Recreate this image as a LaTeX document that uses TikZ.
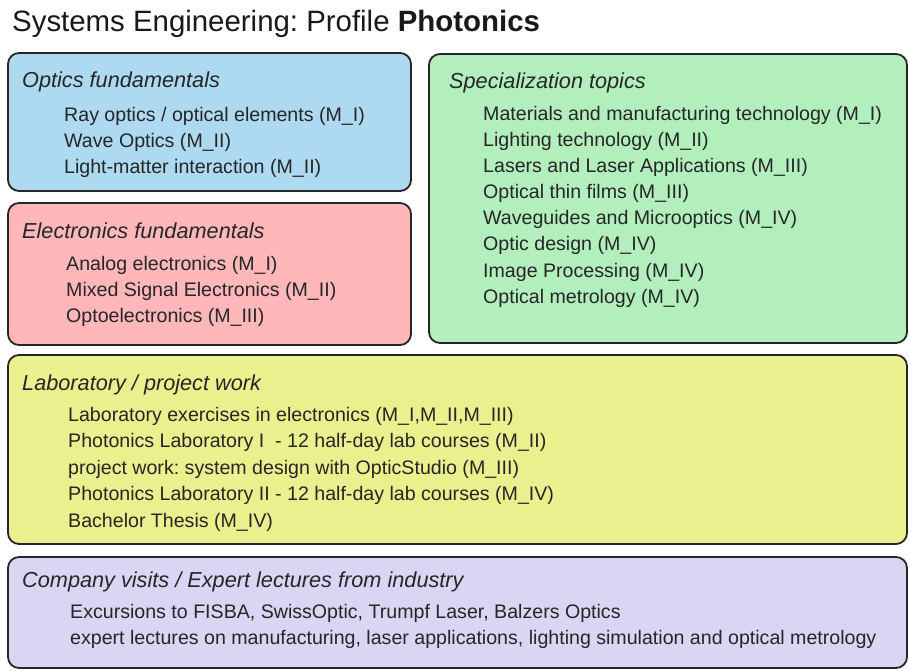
\documentclass[tikz,border=0pt]{standalone}
\usepackage{fontspec}
\setmainfont{Liberation Sans}
\definecolor{cblue}{HTML}{ADD9F1}
\definecolor{cred}{HTML}{FFB7BA}
\definecolor{cgreen}{HTML}{B3EFBD}
\definecolor{cyellow}{HTML}{EBF08E}
\definecolor{cpurple}{HTML}{D9D5F3}
\definecolor{cborder}{HTML}{262626}
\frenchspacing
\begin{document}
\begin{tikzpicture}[x=1pt,y=1pt,
  panel/.style={draw=cborder, line width=1.8pt, rounded corners=11pt},
  head/.style={anchor=west, inner sep=0pt, font=\fontsize{21.7}{24}\selectfont\itshape, text=black!85},
  item/.style={anchor=west, inner sep=0pt, font=\fontsize{19.6}{22}\selectfont, text=black!85},
  ttl/.style={anchor=west, inner sep=0pt, font=\fontsize{29.4}{32}\selectfont, text=black!90}]
\fill[white] (0,0) rectangle (909,671);
\useasboundingbox (0,0) rectangle (909,671);
% title
\node[ttl] (title) at (12,647) {Systems Engineering: Profile \textbf{Photonics}};
% panels
\draw[panel, fill=cblue] (8,618) rectangle (411,480);
\draw[panel, fill=cred] (8,468) rectangle (411,326);
\draw[panel, fill=cgreen] (429,617) rectangle (907,328);
\draw[panel, fill=cyellow] (8,316) rectangle (907,127);
\draw[panel, fill=cpurple] (8,114) rectangle (907,3);
% blue
\node[head] (h1) at (22,589) {Optics fundamentals};
\node[item] (b1) at (64,555) {Ray optics / optical elements (M\_I)};
\node[item] (b2) at (64,529) {Wave Optics (M\_II)};
\node[item] (b3) at (64,503) {Light-matter interaction (M\_II)};
% red
\node[head] (h2) at (22,440) {Electronics fundamentals};
\node[item] (r1) at (66,406) {Analog electronics (M\_I)};
\node[item] (r2) at (66,380) {Mixed Signal Electronics (M\_II)};
\node[item] (r3) at (66,354) {Optoelectronics (M\_III)};
% green
\node[head] (h3) at (449,588) {Specialization topics};
\node[item] (g1) at (483,556) {Materials and manufacturing technology (M\_I)};
\node[item] (g2) at (483,530) {Lighting technology (M\_II)};
\node[item] (g3) at (483,504) {Lasers and Laser Applications (M\_III)};
\node[item] (g4) at (483,478) {Optical thin films (M\_III)};
\node[item] (g5) at (483,452) {Waveguides and Microoptics (M\_IV)};
\node[item] (g6) at (483,426) {Optic design (M\_IV)};
\node[item] (g7) at (483,399) {Image Processing (M\_IV)};
\node[item] (g8) at (483,373) {Optical metrology (M\_IV)};
% yellow
\node[head] (h4) at (22,286) {Laboratory / project work};
\node[item] (y1) at (68,255) {Laboratory exercises in electronics (M\_I,M\_II,M\_III)};
\node[item] (y2) at (68,229) {Photonics Laboratory I\ \ - 12 half-day lab courses (M\_II)};
\node[item] (y3) at (68,202) {project work: system design with OpticStudio (M\_III)};
\node[item] (y4) at (68,176) {Photonics Laboratory II - 12 half-day lab courses (M\_IV)};
\node[item] (y5) at (68,149) {Bachelor Thesis (M\_IV)};
% purple
\node[head] (h5) at (22,89) {Company visits / Expert lectures from industry};
\node[item] (p1) at (70,58) {Excursions to FISBA, SwissOptic, Trumpf Laser, Balzers Optics};
\node[item] (p2) at (70,32) {expert lectures on manufacturing, laser applications, lighting simulation and optical metrology};
\end{tikzpicture}
\end{document}
